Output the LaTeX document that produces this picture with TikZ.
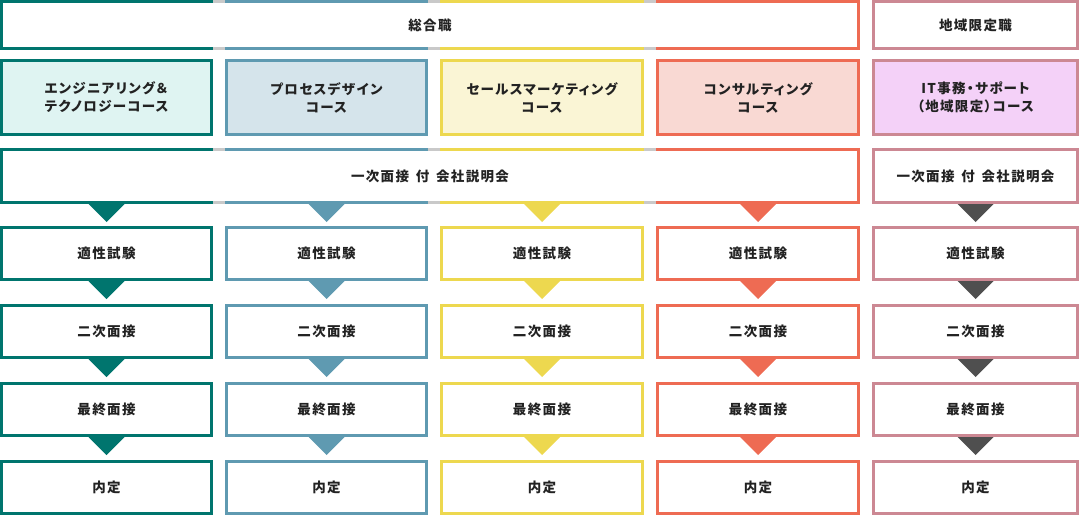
\documentclass[tikz,border=0pt]{standalone}
\usepackage{fontspec}
\newfontfamily\jpfont{Noto Sans CJK JP}[LetterSpace=10]
\newfontfamily\jpprop{Noto Sans CJK JP}[LetterSpace=10,RawFeature=+palt]
\definecolor{cA}{HTML}{00756E}
\definecolor{cB}{HTML}{5F9AB1}
\definecolor{cC}{HTML}{EDD84F}
\definecolor{cD}{HTML}{EE6B53}
\definecolor{cE}{HTML}{CC8893}
\definecolor{cGap}{HTML}{C9C9C9}
\definecolor{cArr}{HTML}{4F4F4F}
\definecolor{fA}{HTML}{DFF4F2}
\definecolor{fB}{HTML}{D5E4EB}
\definecolor{fC}{HTML}{FAF5D5}
\definecolor{fD}{HTML}{F9D9D3}
\definecolor{fE}{HTML}{F4D1F8}
\definecolor{txt}{HTML}{222222}
\begin{document}
\begin{tikzpicture}[x=1pt,y=-1pt,line join=miter,
	font=\jpfont\bfseries\fontsize{13.5pt}{18pt}\selectfont,
	box/.style={draw,line width=3pt,align=center,inner sep=0pt,text=txt},
	course/.style={box,minimum height=74pt,font=\jpprop\bfseries\fontsize{13.5pt}{18pt}\selectfont},
	band/.style={inner sep=0pt,outer sep=0pt,text=txt},
	frame/.style={line width=3pt}]
	\useasboundingbox (0,0) rectangle (1079,516);
	% split frame of the wide boxes, #1 = top, #2 = bottom
	\def\bandframe#1#2{
		\draw[frame,cA] (1.5,#1)--(1.5,#2);
		\draw[frame,cD] (858.5,#1)--(858.5,#2);
		\foreach \a/\b/\col in {0/213/cA,213/225/cGap,225/428/cB,428/440/cGap,440/644/cC,644/656/cGap,656/860/cD}
			\draw[frame,\col] (\a,#1+1.5)--(\b,#1+1.5) (\a,#2-1.5)--(\b,#2-1.5);
	}
	% job types
	\node[band,minimum width=860pt,minimum height=50pt] (sogo) at (430,25) {総合職};
	\bandframe{0}{50}
	\node[box,draw=cE,minimum width=204pt,minimum height=47pt] (chiiki) at (975.5,25) {地域限定職};
	% courses
	\node[course,draw=cA,fill=fA,minimum width=210pt] (engc) at (106.5,97.5) {エンジニアリング{\jpfont ＆}\\テクノロジーコース};
	\node[course,draw=cB,fill=fB,minimum width=200pt] (proc) at (326.5,97.5) {プロセスデザイン\\コース};
	\node[course,draw=cC,fill=fC,minimum width=201pt] (salc) at (542,97.5) {セールスマーケティング\\コース};
	\node[course,draw=cD,fill=fD,minimum width=201pt] (conc) at (758,97.5) {コンサルティング\\コース};
	\node[course,draw=cE,fill=fE,minimum width=204pt] (itc) at (975.5,97.5) {IT事務・サポート\\（地域限定）コース};
	% first interview
	\node[band,minimum width=860pt,minimum height=56pt] (ex) at (430,176) {一次面接\enspace 付\enspace 会社説明会};
	\bandframe{148}{204}
	\node[box,draw=cE,minimum width=204pt,minimum height=53pt] (exr) at (975.5,176) {一次面接\enspace 付\enspace 会社説明会};
	% steps per course
	\foreach \n/\x/\w/\col/\tri/\up in {a/106.5/210/cA/cA/ex,b/326.5/200/cB/cB/ex,c/542/201/cC/cC/ex,d/758/201/cD/cD/ex,e/975.5/204/cE/cArr/exr}{
		\node[box,draw=\col,minimum width=\w pt,minimum height=52pt] (\n1) at (\x,253.5) {適性試験};
		\node[box,draw=\col,minimum width=\w pt,minimum height=52pt] (\n2) at (\x,331.5) {二次面接};
		\node[box,draw=\col,minimum width=\w pt,minimum height=52pt] (\n3) at (\x,409.5) {最終面接};
		\node[box,draw=\col,minimum width=\w pt,minimum height=52pt] (\n4) at (\x,487.5) {内定};
		\fill[\tri] (\n1.north |- \up.south) ++(-18,0) -- ++(36,0) -- ++(-18,18) -- cycle;
		\fill[\tri] (\n1.south) ++(-18,0) -- ++(36,0) -- ++(-18,18) -- cycle;
		\fill[\tri] (\n2.south) ++(-18,0) -- ++(36,0) -- ++(-18,18) -- cycle;
		\fill[\tri] (\n3.south) ++(-18,0) -- ++(36,0) -- ++(-18,18) -- cycle;
	}
\end{tikzpicture}
\end{document}
